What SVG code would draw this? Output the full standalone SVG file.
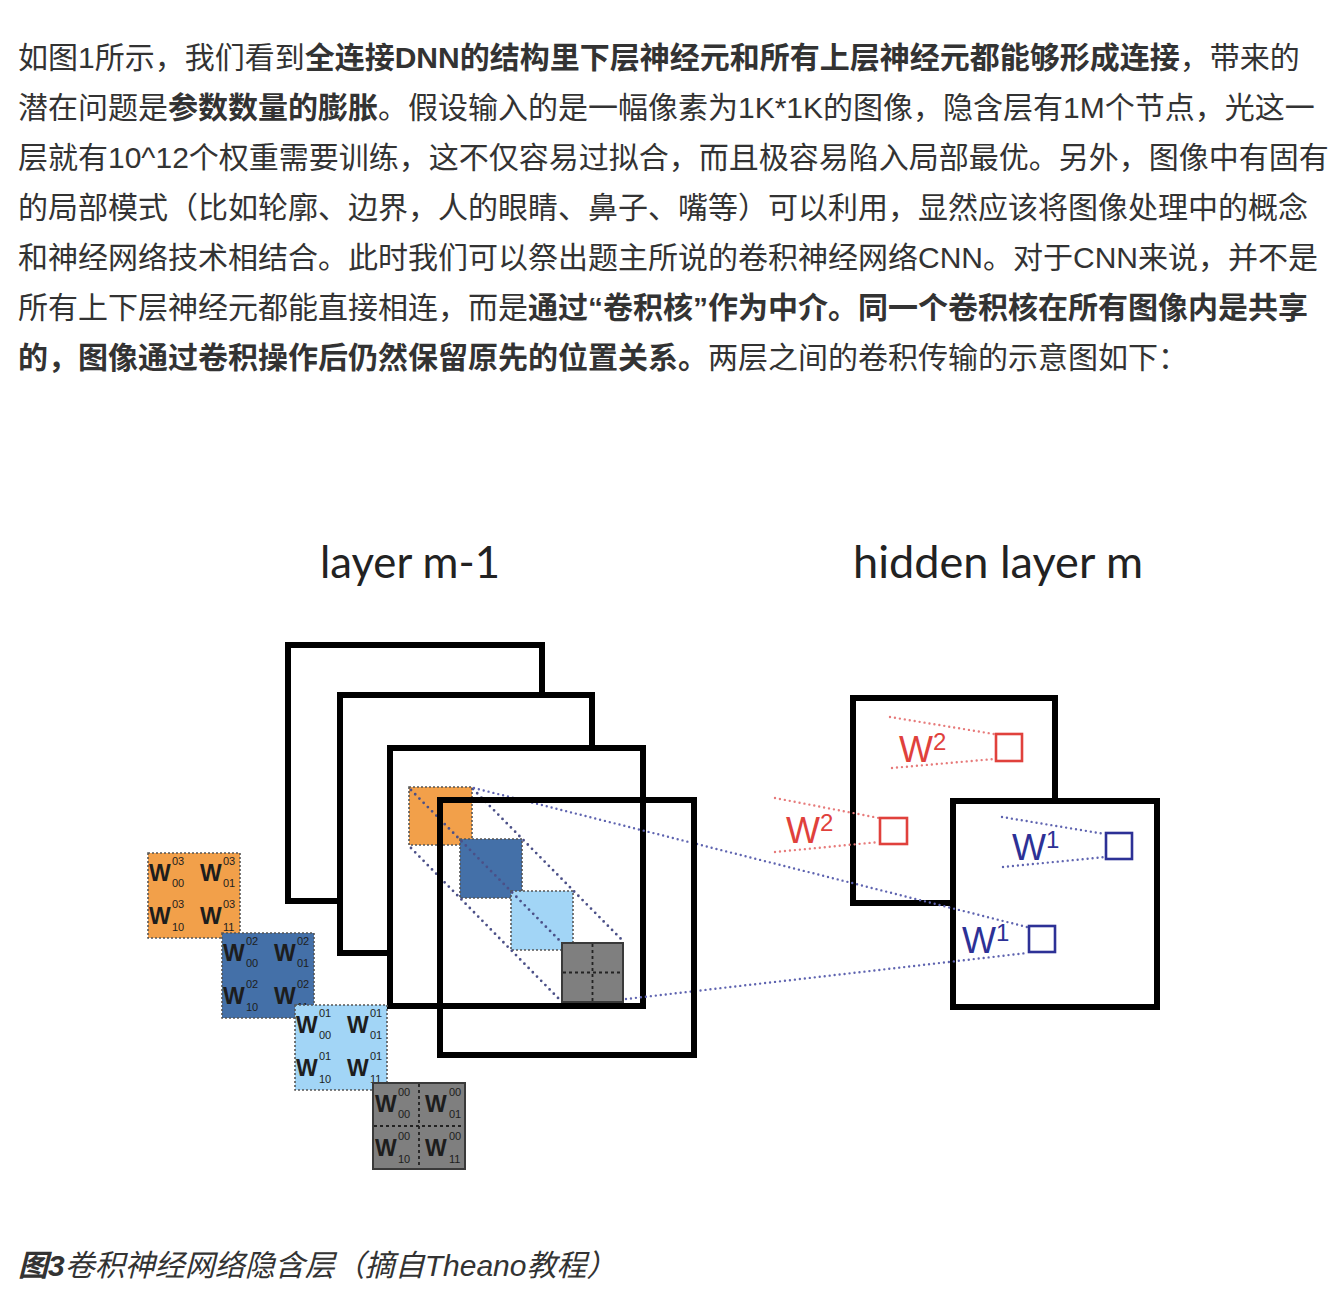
<svg xmlns="http://www.w3.org/2000/svg" width="1340" height="1294" viewBox="0 0 1340 1294">
<style>
.p{font-family:"Liberation Sans","Noto Sans CJK SC",sans-serif;font-size:30px;fill:#333}
.b{font-weight:bold}
.ttl{font-family:Lato,"Liberation Sans",sans-serif;font-size:44px;fill:#222}
.fr{fill:#fff;stroke:#000;stroke-width:6}
.fr0{fill:none;stroke:#000;stroke-width:6}
.sq{stroke:#555;stroke-width:1.6;stroke-dasharray:2 2}
.dot{fill:none;stroke:#4b5088;stroke-width:2.8;stroke-linecap:round;stroke-dasharray:0 6}
.dotb{fill:none;stroke:#5f64b0;stroke-width:2.4;stroke-linecap:round;stroke-dasharray:0 5}
.dotr{fill:none;stroke:#e77b7b;stroke-width:2.4;stroke-linecap:round;stroke-dasharray:0 5}
.kw{font-family:"Liberation Sans",sans-serif;font-weight:bold;font-size:23px;fill:#1d1d1d}
.ks{font-family:"Liberation Sans",sans-serif;font-size:11px;fill:#1d1d1d}
.hw{font-family:"Liberation Sans",sans-serif;font-size:36px}
.hs{font-family:"Liberation Sans",sans-serif;font-size:24px}
.red{fill:#e0413c}
.blue{fill:#2d3196}
.rsq{fill:none;stroke:#e0413c;stroke-width:2.6}
.bsq{fill:none;stroke:#2d3196;stroke-width:2.6}
.cross{stroke:#222;stroke-width:1.8;stroke-dasharray:3 3}
</style>
<rect width="1340" height="1294" fill="#fff"/>

<g id="paragraph">
<text class="p" x="18" y="68">如图1所示，我们看到<tspan class="b">全连接DNN的结构里下层神经元和所有上层神经元都能够形成连接</tspan>，带来的</text>
<text class="p" x="18" y="118">潜在问题是<tspan class="b">参数数量的膨胀</tspan>。假设输入的是一幅像素为1K*1K的图像，隐含层有1M个节点，光这一</text>
<text class="p" x="18" y="168">层就有10^12个权重需要训练，这不仅容易过拟合，而且极容易陷入局部最优。另外，图像中有固有</text>
<text class="p" x="18" y="218">的局部模式（比如轮廓、边界，人的眼睛、鼻子、嘴等）可以利用，显然应该将图像处理中的概念</text>
<text class="p" x="18" y="268">和神经网络技术相结合。此时我们可以祭出题主所说的卷积神经网络CNN。对于CNN来说，并不是</text>
<text class="p" x="18" y="318">所有上下层神经元都能直接相连，而是<tspan class="b">通过“卷积核”作为中介。同一个卷积核在所有图像内是共享</tspan></text>
<text class="p" x="18" y="368"><tspan class="b">的，图像通过卷积操作后仍然保留原先的位置关系。</tspan>两层之间的卷积传输的示意图如下：</text>
</g>

<g id="titles">
<text class="ttl" x="320" y="578" textLength="180" lengthAdjust="spacingAndGlyphs">layer m-1</text>
<text class="ttl" x="853" y="578" textLength="290" lengthAdjust="spacingAndGlyphs">hidden layer m</text>
</g>

<g id="layer-m-1">
<rect class="fr" x="288" y="645" width="254" height="256"/>
<rect class="fr" x="340" y="695" width="252" height="258"/>
<rect class="fr" x="390" y="748" width="253" height="258"/>
<rect class="sq" x="409" y="787" width="63" height="58" fill="#f2a04a"/>
<rect class="sq" x="460" y="839" width="62" height="59" fill="#4470a8"/>
<rect class="sq" x="511" y="891" width="62" height="59" fill="#a2d5f6"/>
<rect x="562" y="943" width="61" height="59" fill="#7f7f7f" stroke="#3a3a3a" stroke-width="2"/>
<line class="cross" x1="592.5" y1="944" x2="592.5" y2="1001"/>
<line class="cross" x1="563" y1="972.5" x2="622" y2="972.5"/>
</g>

<g id="layer-m">
<rect class="fr" x="853" y="698" width="202" height="205"/>
<rect class="fr" x="953" y="801" width="204" height="206"/>
</g>

<g id="connectors">
<line class="dot" x1="411" y1="790" x2="562" y2="943"/>
<line class="dot" x1="411" y1="848" x2="560" y2="1000"/>
<line class="dot" x1="473" y1="789" x2="623" y2="941"/>
<line class="dotb" x1="474" y1="788" x2="1027" y2="927"/>
<line class="dotb" x1="626" y1="999" x2="1027" y2="953"/>
<line class="dotr" x1="890" y1="717" x2="994" y2="734"/>
<line class="dotr" x1="892" y1="768" x2="994" y2="759"/>
<line class="dotr" x1="775" y1="798" x2="879" y2="818"/>
<line class="dotr" x1="775" y1="852" x2="879" y2="842"/>
<line class="dotb" x1="1002" y1="817" x2="1105" y2="834"/>
<line class="dotb" x1="1003" y1="867" x2="1105" y2="857"/>
</g>

<g id="frame-front">
<rect class="fr0" x="440" y="800" width="254" height="255"/>
</g>

<g id="hidden-labels">
<text class="hw red" x="899" y="762">W<tspan class="hs" dy="-12">2</tspan></text>
<rect class="rsq" x="996" y="734" width="26" height="27"/>
<text class="hw red" x="786" y="843">W<tspan class="hs" dy="-12">2</tspan></text>
<rect class="rsq" x="880" y="818" width="27" height="26"/>
<text class="hw blue" x="1012" y="860">W<tspan class="hs" dy="-12">1</tspan></text>
<rect class="bsq" x="1106" y="833" width="26" height="26"/>
<text class="hw blue" x="962" y="953">W<tspan class="hs" dy="-12">1</tspan></text>
<rect class="bsq" x="1029" y="926" width="26" height="26"/>
</g>

<g id="kernel-03" transform="translate(148,853)">
<rect class="sq" x="0" y="0" width="92" height="85" fill="#f2a04a"/>
<text class="kw" x="1" y="28">W</text><text class="ks" x="24" y="12">03</text><text class="ks" x="24" y="34">00</text>
<text class="kw" x="52" y="28">W</text><text class="ks" x="75" y="12">03</text><text class="ks" x="75" y="34">01</text>
<text class="kw" x="1" y="71">W</text><text class="ks" x="24" y="55">03</text><text class="ks" x="24" y="78">10</text>
<text class="kw" x="52" y="71">W</text><text class="ks" x="75" y="55">03</text><text class="ks" x="75" y="78">11</text>
</g>
<g id="kernel-02" transform="translate(222,933)">
<rect class="sq" x="0" y="0" width="92" height="85" fill="#4470a8"/>
<text class="kw" x="1" y="28">W</text><text class="ks" x="24" y="12">02</text><text class="ks" x="24" y="34">00</text>
<text class="kw" x="52" y="28">W</text><text class="ks" x="75" y="12">02</text><text class="ks" x="75" y="34">01</text>
<text class="kw" x="1" y="71">W</text><text class="ks" x="24" y="55">02</text><text class="ks" x="24" y="78">10</text>
<text class="kw" x="52" y="71">W</text><text class="ks" x="75" y="55">02</text><text class="ks" x="75" y="78">11</text>
</g>
<g id="kernel-01" transform="translate(295,1005)">
<rect class="sq" x="0" y="0" width="92" height="85" fill="#a2d5f6"/>
<text class="kw" x="1" y="28">W</text><text class="ks" x="24" y="12">01</text><text class="ks" x="24" y="34">00</text>
<text class="kw" x="52" y="28">W</text><text class="ks" x="75" y="12">01</text><text class="ks" x="75" y="34">01</text>
<text class="kw" x="1" y="71">W</text><text class="ks" x="24" y="55">01</text><text class="ks" x="24" y="78">10</text>
<text class="kw" x="52" y="71">W</text><text class="ks" x="75" y="55">01</text><text class="ks" x="75" y="78">11</text>
</g>
<g id="kernel-00" transform="translate(373,1083)">
<rect x="0" y="0" width="92" height="86" fill="#7f7f7f" stroke="#3a3a3a" stroke-width="2"/>
<line class="cross" x1="46" y1="1" x2="46" y2="85"/>
<line class="cross" x1="1" y1="43" x2="91" y2="43"/>
<text class="kw" x="2" y="29">W</text><text class="ks" x="25" y="13">00</text><text class="ks" x="25" y="35">00</text>
<text class="kw" x="52" y="29">W</text><text class="ks" x="76" y="13">00</text><text class="ks" x="76" y="35">01</text>
<text class="kw" x="2" y="73">W</text><text class="ks" x="25" y="57">00</text><text class="ks" x="25" y="80">10</text>
<text class="kw" x="52" y="73">W</text><text class="ks" x="76" y="57">00</text><text class="ks" x="76" y="80">11</text>
</g>

<g id="caption">
<text class="p" x="18" y="1276" font-style="italic"><tspan class="b">图3</tspan>卷积神经网络隐含层（摘自Theano教程）</text>
</g>
</svg>
